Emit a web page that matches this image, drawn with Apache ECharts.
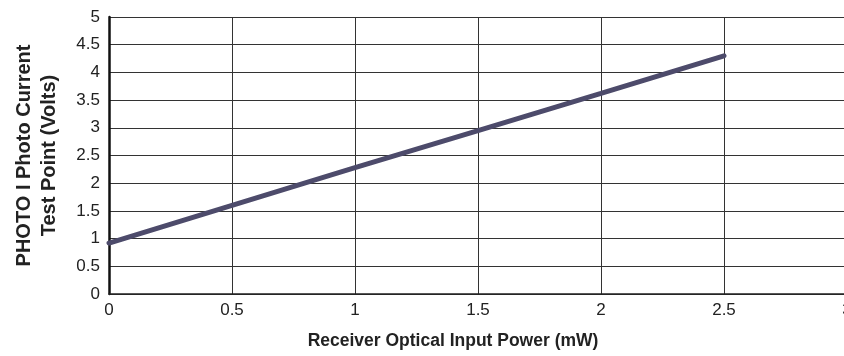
<!DOCTYPE html>
<html>
<head>
<meta charset="utf-8">
<script src="https://cdn.jsdelivr.net/npm/echarts@6/dist/echarts.min.js"></script>
<style>
  html, body { margin: 0; padding: 0; background: #fff; }
  #chart { width: 844px; height: 356px; }
</style>
</head>
<body>
<div id="chart"></div>
<script>
// values
const powerMw = [0, 0.5, 1, 1.5, 2, 2.5]
const photoVolts = [0.92, 1.6, 2.28, 2.95, 3.62, 4.3]

const xName = 'Receiver Optical Input Power (mW)'
const yName = 'PHOTO I Photo Current\nTest Point (Volts)'

const lineData = powerMw.map((x, i) => [x, photoVolts[i]])

const chart = echarts.init(document.getElementById('chart'))

chart.setOption({
  animation: false,
  grid: {
    left: 109,
    right: -3,
    top: 17,
    bottom: 62,
    outerBoundsMode: 'none',
    containLabel: false
  },
  xAxis: {
    type: 'value',
    min: 0,
    max: 3,
    interval: 0.5,
    name: xName,
    nameLocation: 'middle',
    nameGap: 38,
    nameTextStyle: {
      fontFamily: 'Liberation Sans',
      fontWeight: 'bold',
      fontSize: 17.5,
      color: '#222',
      // title sits a bit left of the plot centre in the original
      padding: [0, 50, 0, 0]
    },
    axisLine: { lineStyle: { color: '#222', width: 1.5 } },
    axisTick: { show: false },
    axisLabel: {
      fontFamily: 'Liberation Sans',
      fontSize: 17,
      color: '#222',
      margin: 8
    },
    splitLine: { show: true, lineStyle: { color: '#333', width: 1 } }
  },
  yAxis: {
    type: 'value',
    min: 0,
    max: 5,
    interval: 0.5,
    name: yName,
    nameLocation: 'middle',
    nameGap: 47,
    nameTextStyle: {
      fontFamily: 'Liberation Sans',
      fontWeight: 'bold',
      fontSize: 20,
      lineHeight: 25,
      color: '#222'
    },
    axisLine: { show: true, lineStyle: { color: '#111', width: 2.5 } },
    axisTick: { show: false },
    axisLabel: {
      fontFamily: 'Liberation Sans',
      fontSize: 17,
      color: '#222',
      margin: 9
    },
    splitLine: { show: true, lineStyle: { color: '#333', width: 1 } }
  },
  series: [
    {
      type: 'line',
      data: lineData,
      showSymbol: false,
      lineStyle: { color: '#4d4b6b', width: 5, cap: 'round' }
    }
  ]
})
</script>
</body>
</html>
